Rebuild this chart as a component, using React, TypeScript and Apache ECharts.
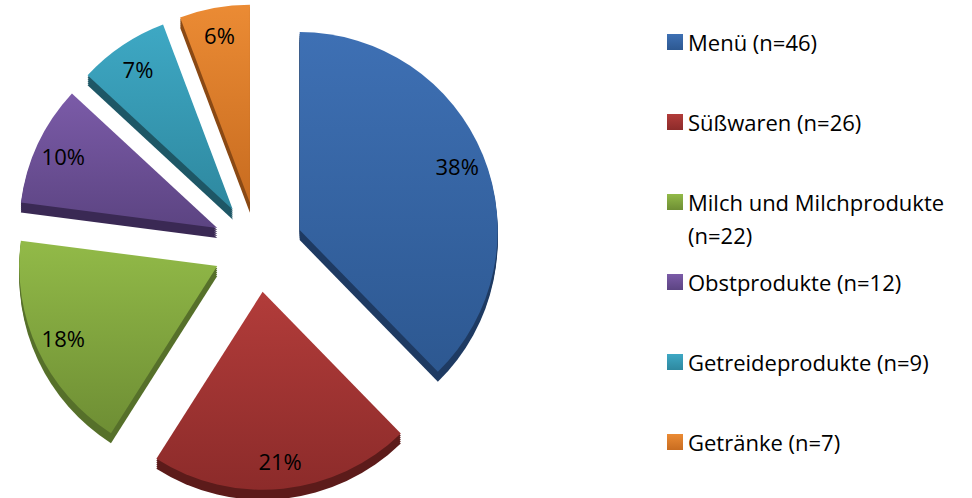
import React, { useEffect, useRef } from 'react';
import * as echarts from 'echarts';

const categories = [
  'Menü (n=46)',
  'Süßwaren (n=26)',
  'Milch und Milchprodukte (n=22)',
  'Obstprodukte (n=12)',
  'Getreideprodukte (n=9)',
  'Getränke (n=7)',
];
const counts = [46, 26, 22, 12, 9, 7];
const topColors = ['#3E70B4', '#B23C3A', '#92BA48', '#7B5BA8', '#3EA8C4', '#EB8B34'];
const bottomColors = ['#2D5891', '#8C2B2A', '#6E8E34', '#5C4482', '#2E889F', '#C86C20'];
const sideColors = ['#1E3A62', '#5C1B1A', '#56702A', '#3A2954', '#1E5766', '#8A4914'];

const FONT = '"Open Sans", Lato, "DejaVu Sans", sans-serif';
const CX = 258;
const CY = 247;
const R = 198;
const OFFSET = 45;
const DEPTHS = [2, 4, 6, 8, 10];

export default function App() {
  const ref = useRef<HTMLDivElement>(null);
  useEffect(() => {
    if (!ref.current) return;
    const chart = echarts.init(ref.current, undefined, { renderer: 'svg' });

    const baseSeries = {
      type: 'pie',
      startAngle: 90,
      clockwise: true,
      selectedMode: 'multiple',
      selectedOffset: OFFSET,
      avoidLabelOverlap: false,
      labelLine: { show: false },
      emphasis: { disabled: true },
    };

    const depthSeries = DEPTHS.map((dy) => ({
      ...baseSeries,
      silent: true,
      center: [CX, CY + dy],
      radius: [0, R],
      label: { show: false },
      data: categories.map((name, i) => ({
        name,
        value: counts[i],
        selected: true,
        itemStyle: { color: sideColors[i] },
      })),
    }));

    const gradient = (i: number) => ({
      type: 'linear',
      x: 0,
      y: 0,
      x2: 0,
      y2: 1,
      colorStops: [
        { offset: 0, color: topColors[i] },
        { offset: 1, color: bottomColors[i] },
      ],
    });

    const frontSeries = {
      ...baseSeries,
      silent: true,
      center: [CX, CY],
      radius: [0, R],
      label: { show: false },
      data: categories.map((name, i) => ({
        name,
        value: counts[i],
        selected: true,
        itemStyle: { color: gradient(i) },
      })),
    };

    const labelSeries = {
      ...baseSeries,
      silent: true,
      center: [CX, CY],
      radius: [136, R],
      itemStyle: { color: 'rgba(0,0,0,0)' },
      label: {
        show: true,
        position: 'inside',
        color: '#000',
        fontSize: 22,
        fontFamily: FONT,
        formatter: (p: any) => Math.round(p.percent) + '%',
      },
      data: categories.map((name, i) => ({ name, value: counts[i], selected: true })),
    };

    chart.setOption({
      animation: false,
      legend: {
        orient: 'vertical',
        left: 667,
        top: 29,
        padding: 0,
        itemWidth: 16,
        itemHeight: 16,
        itemGap: 54,
        icon: 'rect',
        selectedMode: false,
        textStyle: { fontSize: 22, fontFamily: FONT, color: '#000', lineHeight: 26 },
        formatter: (name: string) =>
          name === 'Milch und Milchprodukte (n=22)' ? 'Milch und Milchprodukte' : name,
        data: categories.map((name, i) => ({
          name,
          itemStyle: { color: gradient(i) },
        })),
      },
      graphic: [
        {
          type: 'text',
          x: 688,
          y: 235,
          style: {
            text: '(n=22)',
            fontSize: 22,
            fontFamily: FONT,
            fill: '#000',
            verticalAlign: 'middle',
          },
        },
      ],
      series: [...depthSeries, frontSeries, labelSeries],
    });

    return () => chart.dispose();
  }, []);

  return (
    <div
      ref={ref}
      style={{ position: 'fixed', left: 0, top: 0, width: 972, height: 498, background: '#fff' }}
    />
  );
}
